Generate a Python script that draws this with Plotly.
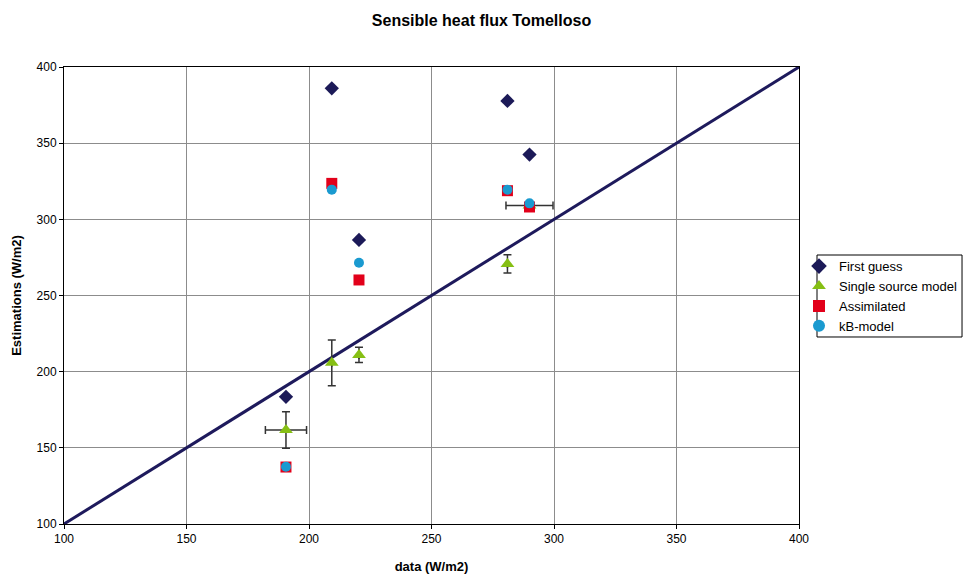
import plotly.graph_objects as go

# data
x_obs = [190.6, 209.3, 220.4, 281.0, 290.0]
first_guess = [183.5, 386.0, 286.5, 377.7, 342.5]
single_source = [161.7, 205.8, 211.0, 270.7, 309.0]
single_err_y = [12.0, 15.0, 5.0, 6.0, 0.0]
single_err_x = [8.4, 0.0, 0.0, 0.0, 9.6]
assimilated = [137.4, 323.6, 260.2, 318.8, 308.1]
kb_model = [137.6, 319.5, 271.5, 319.5, 310.5]
diag = [100, 400]
ticks = [100, 150, 200, 250, 300, 350, 400]

font = "Liberation Sans, Arial, sans-serif"

fig = go.Figure()
fig.add_trace(go.Scatter(x=diag, y=diag, mode="lines",
                         line=dict(color="#1e1a5c", width=3),
                         showlegend=False, hoverinfo="skip"))
fig.add_trace(go.Scatter(x=x_obs, y=first_guess, mode="markers", name="First guess",
                         marker=dict(symbol="diamond", size=11, color="#1c1a58")))
fig.add_trace(go.Scatter(x=x_obs, y=single_source, mode="markers", name="Single source model",
                         marker=dict(symbol="triangle-up", size=12, color="#86bf14"),
                         error_y=dict(type="data", array=single_err_y, color="#333333",
                                      thickness=1.5, width=4),
                         error_x=dict(type="data", array=single_err_x, color="#333333",
                                      thickness=1.5, width=4)))
fig.add_trace(go.Scatter(x=x_obs, y=assimilated, mode="markers", name="Assimilated",
                         marker=dict(symbol="square", size=11, color="#e2001a")))
fig.add_trace(go.Scatter(x=x_obs, y=kb_model, mode="markers", name="kB-model",
                         marker=dict(symbol="circle", size=10, color="#1a9ad0")))

axis_common = dict(range=[100, 400], tickvals=ticks, showgrid=True, gridcolor="#8c8c8c",
                   gridwidth=1, zeroline=False, showline=True, linecolor="black",
                   linewidth=1, mirror=True, ticks="outside", ticklen=4, tickcolor="black",
                   tickfont=dict(family=font, size=12, color="black"))

fig.update_layout(
    width=963, height=574,
    margin=dict(l=64, r=164, t=67, b=50, autoexpand=False),
    plot_bgcolor="white", paper_bgcolor="white",
    title=dict(text="<b>Sensible heat flux Tomelloso</b>", x=0.5, xanchor="center",
               y=0.965, yanchor="middle", font=dict(family=font, size=16, color="black")),
    xaxis=dict(title=dict(text="<b>data (W/m2)</b>", font=dict(family=font, size=13, color="black"),
                          standoff=20), **axis_common),
    yaxis=dict(title=dict(text="<b>Estimations (W/m2)</b>", font=dict(family=font, size=13, color="black"),
                          standoff=12), **axis_common),
    legend=dict(x=1.0, y=0.597, xanchor="left", yanchor="top",
                borderwidth=0, bgcolor="rgba(0,0,0,0)",
                font=dict(family=font, size=13, color="black"),
                tracegroupgap=0, itemwidth=30, itemsizing="constant"),
    showlegend=True,
    shapes=[dict(type="rect", xref="paper", yref="paper",
                 x0=1.0245, x1=1.2218, y0=0.4092, y1=0.5886,
                 line=dict(color="black", width=1), fillcolor="rgba(0,0,0,0)", layer="below")],
)

fig.write_html("out.html")
